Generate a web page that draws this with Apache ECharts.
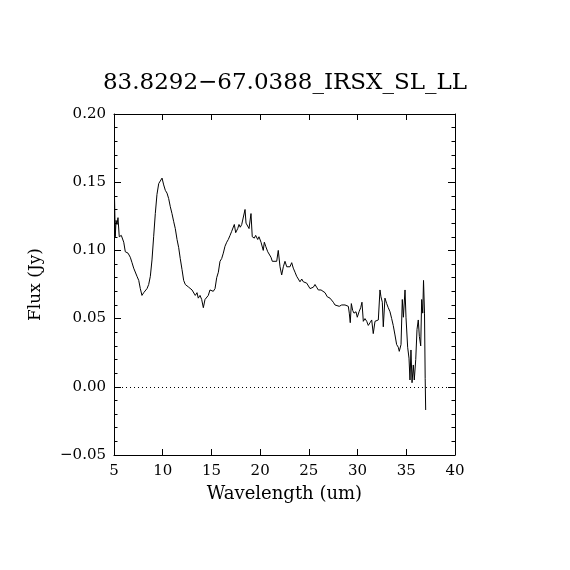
<!DOCTYPE html>
<html>
<head>
<meta charset="utf-8">
<script src="https://cdn.jsdelivr.net/npm/echarts@6/dist/echarts.min.js"></script>
<style>
    html, body { margin: 0; padding: 0; background: #fff; }
    #chart { width: 570px; height: 570px; }
</style>
</head>
<body>
<div id="chart"></div>
<script>
// wavelength (um) and flux (Jy)
let wavelength = [
    5.05, 5.13, 5.21, 5.31, 5.41, 5.54, 5.75, 6.00, 6.16, 6.44,
    6.67, 6.85, 7.02, 7.19, 7.36, 7.54, 7.70, 7.87, 8.05, 8.21,
    8.39, 8.56, 8.73, 8.90, 9.07, 9.24, 9.41, 9.59, 9.75, 9.93,
    10.10, 10.27, 10.44, 10.61, 10.78, 10.95, 11.13, 11.29, 11.47, 11.64,
    11.80, 11.98, 12.15, 12.32, 12.49, 12.67, 12.83, 13.01, 13.18, 13.34,
    13.52, 13.65, 13.83, 14.00, 14.17, 14.34, 14.51, 14.68, 14.85, 15.03,
    15.19, 15.37, 15.54, 15.71, 15.88, 16.05, 16.22, 16.39, 16.57, 16.73,
    16.91, 17.08, 17.24, 17.35, 17.49, 17.70, 17.83, 17.96, 18.11, 18.27,
    18.45, 18.55, 18.72, 18.86, 19.06, 19.19, 19.40, 19.54, 19.75, 19.88,
    20.09, 20.32, 20.43, 20.57, 20.78, 20.91, 21.11, 21.25, 21.45, 21.70,
    21.86, 22.04, 22.21, 22.38, 22.55, 22.73, 22.89, 23.06, 23.24, 23.40,
    23.58, 23.75, 23.92, 24.09, 24.27, 24.43, 24.60, 24.78, 24.94, 25.12,
    25.29, 25.46, 25.63, 25.80, 25.97, 26.14, 26.25, 26.42, 26.66, 26.89,
    27.17, 27.34, 27.51, 27.68, 27.86, 28.12, 28.37, 28.53, 28.71, 28.88,
    29.05, 29.15, 29.25, 29.36, 29.50, 29.63, 29.84, 29.97, 30.15, 30.32,
    30.45, 30.59, 30.76, 30.94, 31.10, 31.28, 31.45, 31.61, 31.79, 31.96,
    32.13, 32.30, 32.40, 32.54, 32.64, 32.81, 32.99, 33.15, 33.33, 33.50,
    33.66, 33.84, 34.01, 34.18, 34.28, 34.46, 34.59, 34.70, 34.87, 34.97,
    35.14, 35.28, 35.38, 35.48, 35.59, 35.72, 35.82, 35.97, 36.10, 36.23,
    36.34, 36.48, 36.58, 36.69, 36.77, 36.87, 36.94, 36.99
]
let flux = [
    0.140, 0.110, 0.122, 0.119, 0.124, 0.110, 0.111, 0.106, 0.099, 0.098,
    0.095, 0.091, 0.087, 0.086, 0.081, 0.078, 0.072, 0.067, 0.069, 0.070,
    0.072, 0.075, 0.081, 0.093, 0.110, 0.127, 0.141, 0.149, 0.150, 0.153,
    0.148, 0.144, 0.142, 0.138, 0.132, 0.127, 0.121, 0.116, 0.108, 0.102,
    0.094, 0.086, 0.078, 0.075, 0.076, 0.073, 0.073, 0.071, 0.070, 0.067,
    0.069, 0.065, 0.067, 0.064, 0.058, 0.064, 0.065, 0.067, 0.071, 0.070,
    0.070, 0.072, 0.080, 0.084, 0.092, 0.094, 0.098, 0.103, 0.106, 0.108,
    0.111, 0.114, 0.115, 0.119, 0.113, 0.116, 0.119, 0.117, 0.119, 0.120,
    0.130, 0.120, 0.121, 0.116, 0.127, 0.110, 0.109, 0.111, 0.108, 0.110,
    0.106, 0.100, 0.106, 0.103, 0.099, 0.100, 0.095, 0.092, 0.093, 0.092,
    0.100, 0.088, 0.082, 0.088, 0.092, 0.088, 0.087, 0.088, 0.091, 0.087,
    0.084, 0.081, 0.079, 0.077, 0.079, 0.077, 0.078, 0.076, 0.075, 0.072,
    0.073, 0.073, 0.075, 0.073, 0.071, 0.070, 0.071, 0.071, 0.069, 0.066,
    0.065, 0.064, 0.062, 0.060, 0.059, 0.059, 0.060, 0.059, 0.060, 0.061,
    0.059, 0.054, 0.047, 0.061, 0.056, 0.054, 0.055, 0.051, 0.055, 0.058,
    0.062, 0.048, 0.050, 0.048, 0.045, 0.047, 0.049, 0.039, 0.048, 0.049,
    0.049, 0.071, 0.066, 0.062, 0.044, 0.065, 0.061, 0.058, 0.055, 0.050,
    0.045, 0.038, 0.031, 0.029, 0.026, 0.031, 0.064, 0.051, 0.071, 0.051,
    0.029, 0.021, 0.005, 0.027, 0.003, 0.016, 0.005, 0.020, 0.042, 0.049,
    0.037, 0.030, 0.064, 0.054, 0.078, 0.054, 0.006, -0.017
]
let xTicks = { min: 5, max: 40, interval: 5 }
let yTicks = { min: -0.05, max: 0.20, interval: 0.05 }

let font = 'DejaVu Serif'
let black = '#000'

function initSpectrum(x, y) {
    let result = []
    for (let i = 0; i < x.length; i++) {
        result.push([x[i], y[i]])
    }
    return result
}

function yLabel(v) {
    return v.toFixed(2).replace('-', '\u2212')
}

let frameX = {
    type: 'value',
    min: xTicks.min,
    max: xTicks.max,
    interval: xTicks.interval,
    axisLine: { show: true, onZero: false, lineStyle: { color: black, width: 1 } },
    axisTick: { show: true, inside: true, length: 6, lineStyle: { color: black } },
    splitLine: { show: false }
}
let frameY = {
    type: 'value',
    min: yTicks.min,
    max: yTicks.max,
    interval: yTicks.interval,
    axisLine: { show: true, onZero: false, lineStyle: { color: black, width: 1 } },
    axisTick: { show: true, inside: true, length: 7, lineStyle: { color: black } },
    minorTick: { show: true, splitNumber: 5, length: 3.5, lineStyle: { color: black } },
    splitLine: { show: false }
}

let option = {
    animation: false,
    backgroundColor: '#fff',
    title: {
        text: '83.8292\u221267.0388_IRSX_SL_LL',
        left: 'center',
        top: 67,
        textStyle: { fontFamily: font, fontWeight: 'normal', fontSize: 23, color: black }
    },
    grid: { left: 114, right: 115, top: 114, bottom: 115 },
    xAxis: [
        Object.assign({}, frameX, {
            position: 'bottom',
            name: 'Wavelength (um)',
            nameLocation: 'middle',
            nameGap: 30,
            nameTextStyle: { fontFamily: font, fontSize: 18, color: black },
            axisLabel: { margin: 9, fontFamily: font, fontSize: 15, color: black }
        }),
        Object.assign({}, frameX, { position: 'top', axisLabel: { show: false } })
    ],
    yAxis: [
        Object.assign({}, frameY, {
            position: 'left',
            name: 'Flux (Jy)',
            nameLocation: 'middle',
            nameGap: 70,
            nameTextStyle: { fontFamily: font, fontSize: 17, color: black },
            axisLabel: { margin: 8, fontFamily: font, fontSize: 15, color: black, formatter: yLabel }
        }),
        Object.assign({}, frameY, { position: 'right', axisLabel: { show: false } })
    ],
    series: [{
        type: 'line',
        xAxisIndex: 0,
        yAxisIndex: 0,
        data: initSpectrum(wavelength, flux),
        showSymbol: false,
        lineStyle: { color: black, width: 1 },
        markLine: {
            silent: true,
            symbol: 'none',
            label: { show: false },
            lineStyle: { color: black, width: 1, type: [1, 3] },
            data: [{ yAxis: 0 }]
        }
    }]
}

echarts.init(document.getElementById('chart')).setOption(option)
</script>
</body>
</html>
